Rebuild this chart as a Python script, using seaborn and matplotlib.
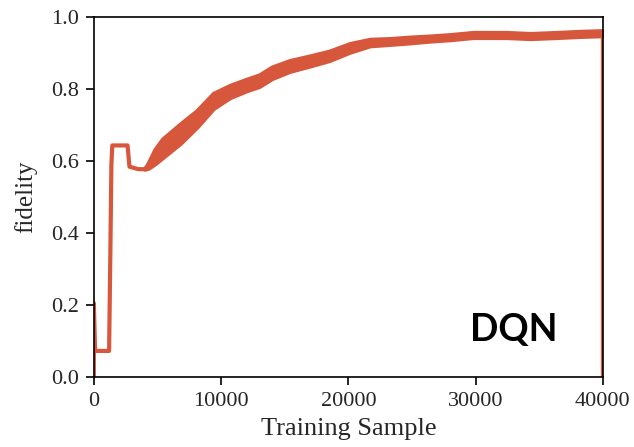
import numpy as np
import pandas as pd
import matplotlib
matplotlib.use("Agg")
import matplotlib.pyplot as plt
import seaborn as sns

# Early training phase: step trace with no spread
early_sample = [0, 0, 100, 1200, 1300, 1380, 1450, 2650, 2800, 3500, 4000]
early_fidelity = [0.0, 0.205, 0.072, 0.072, 0.35, 0.59, 0.643, 0.643, 0.584, 0.577, 0.577]

# Learning phase: running fidelity and its spread
learn_sample = [4000, 4300, 4800, 5400, 6800, 8100, 9400, 10700, 12000, 13000,
                14000, 15400, 17000, 18500, 20100, 21700, 23300, 24800, 26400,
                28000, 29800, 32400, 34300, 36400, 38200, 40000]
learn_fidelity = [0.577, 0.588, 0.612, 0.635, 0.676, 0.717, 0.767, 0.793, 0.811,
                  0.823, 0.845, 0.864, 0.878, 0.892, 0.914, 0.929, 0.932, 0.936,
                  0.940, 0.944, 0.950, 0.950, 0.947, 0.950, 0.953, 0.955]
learn_spread = [0.0, 0.008, 0.02, 0.026, 0.027, 0.023, 0.021, 0.017, 0.016,
                0.016, 0.016, 0.015, 0.014, 0.013, 0.012, 0.009, 0.008, 0.008,
                0.007, 0.007, 0.007, 0.007, 0.007, 0.007, 0.007, 0.007]

# Final drop at the end of the run
end_sample = [40000, 40000]
end_fidelity = [0.955, 0.0]

x_ticks = [0, 10000, 20000, 30000, 40000]
y_ticks = [0.0, 0.2, 0.4, 0.6, 0.8, 1.0]

color = "#d6573c"
lw = 3.0

sns.set_style("ticks")
plt.rcParams["font.family"] = ["Liberation Serif", "DejaVu Serif"]
plt.rcParams["axes.linewidth"] = 1.2

fig = plt.figure(figsize=(6.34, 4.47), dpi=100)
ax = fig.add_axes([0.148, 0.157, 0.803, 0.805])

trace = pd.DataFrame({
    "Training Sample": early_sample + learn_sample + end_sample,
    "fidelity": early_fidelity + learn_fidelity + end_fidelity,
})
sns.lineplot(data=trace, x="Training Sample", y="fidelity", ax=ax,
             estimator=None, sort=False, color=color, linewidth=lw)

lo = np.array(learn_fidelity) - np.array(learn_spread)
hi = np.array(learn_fidelity) + np.array(learn_spread)
ax.fill_between(learn_sample, lo, hi, color=color, linewidth=lw,
                edgecolor=color)

ax.set_xlim(0, 40000)
ax.set_ylim(0, 1.0)
ax.set_xticks(x_ticks)
ax.set_yticks(y_ticks)
ax.set_yticklabels([f"{v:.1f}" for v in y_ticks])
ax.tick_params(axis="both", labelsize=16, length=6, width=1.2, pad=5,
               color="black")
ax.set_xlabel("Training Sample", fontsize=19, labelpad=5)
ax.set_ylabel("fidelity", fontsize=18, labelpad=10)
for s in ax.spines.values():
    s.set_visible(True)
    s.set_color("black")

ax.text(0.825, 0.13, "DQN", transform=ax.transAxes, fontsize=27,
        fontweight="bold", family=["Lato", "DejaVu Sans"], ha="center",
        va="center", color="black")

fig.savefig("out.png", dpi=100)
